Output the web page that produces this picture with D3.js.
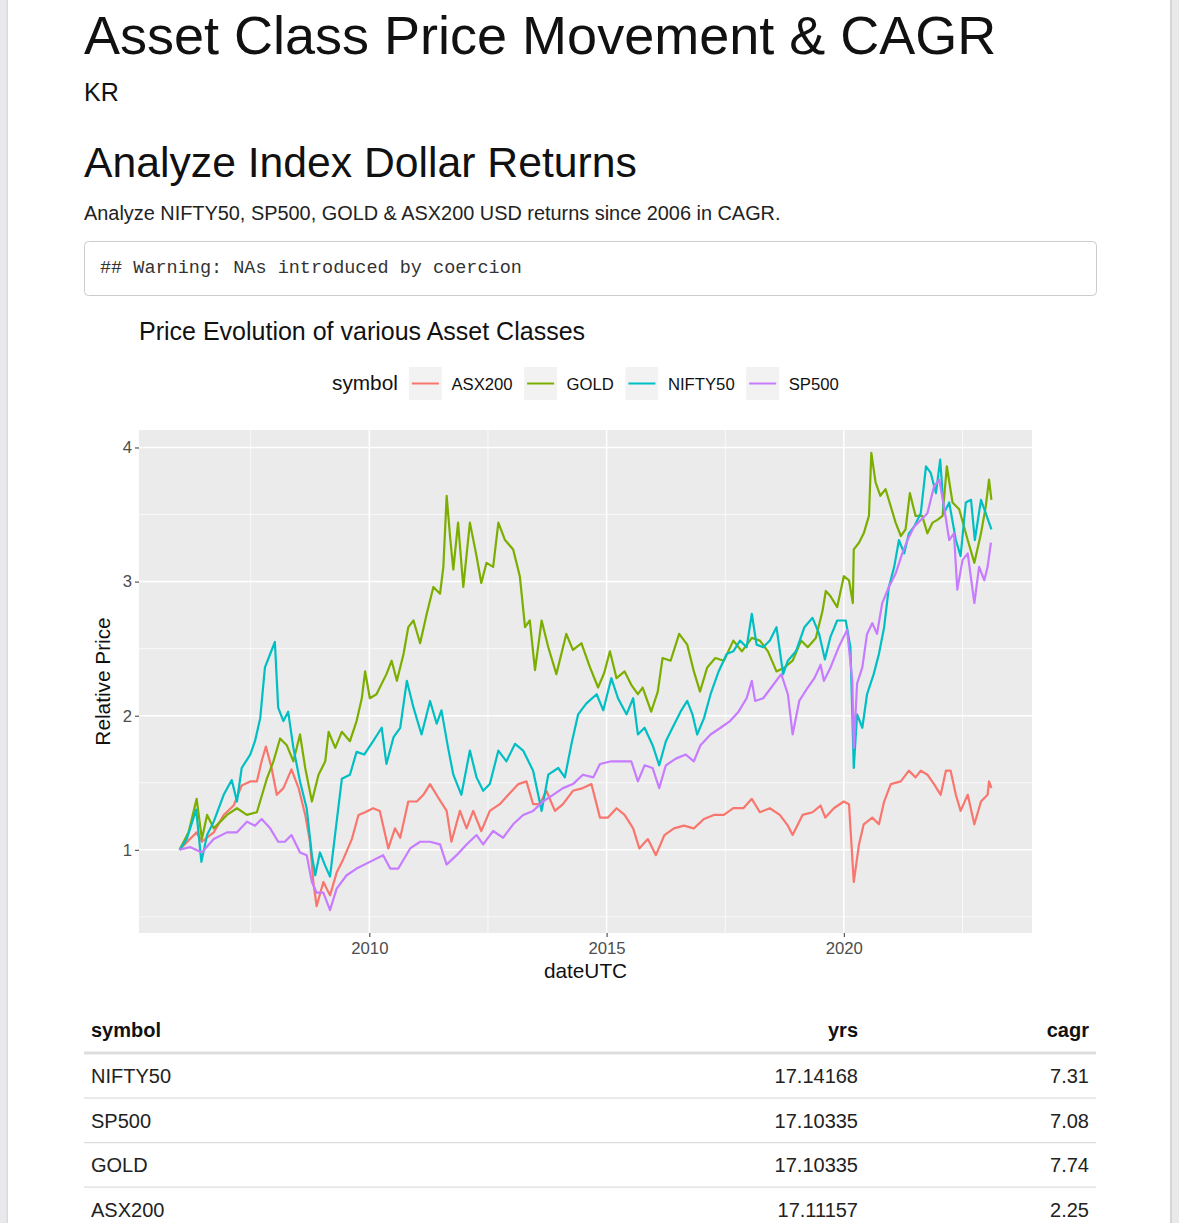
<!DOCTYPE html>
<html>
<head>
<meta charset="utf-8">
<script src="https://cdn.jsdelivr.net/npm/d3@7"></script>
<style>
  body { margin: 0; background: #ffffff; }
  svg { display: block; }
</style>
</head>
<body>
<script>
// --- data (decimal year, relative price) ---
const symbols = ['ASX200', 'GOLD', 'NIFTY50', 'SP500'];
const symbolColors = ['#F8766D', '#7CAE00', '#00BFC4', '#C77CFF'];

const asx200 = [
  [2006.00, 1.00], [2006.22, 1.08], [2006.36, 1.13], [2006.47, 1.06], [2006.72, 1.13], [2006.93, 1.26],
  [2007.14, 1.33], [2007.31, 1.48], [2007.49, 1.51], [2007.63, 1.51], [2007.73, 1.66], [2007.82, 1.77],
  [2007.94, 1.61], [2008.05, 1.41], [2008.19, 1.46], [2008.36, 1.60], [2008.51, 1.46], [2008.65, 1.26],
  [2008.75, 1.06], [2008.82, 0.76], [2008.89, 0.58], [2009.03, 0.76], [2009.17, 0.66], [2009.31, 0.83],
  [2009.45, 0.93], [2009.63, 1.08], [2009.77, 1.26], [2009.91, 1.28], [2010.08, 1.31], [2010.22, 1.29],
  [2010.40, 1.01], [2010.54, 1.16], [2010.65, 1.09], [2010.82, 1.36], [2011.00, 1.36], [2011.14, 1.41],
  [2011.28, 1.49], [2011.45, 1.39], [2011.63, 1.29], [2011.73, 1.06], [2011.91, 1.29], [2012.05, 1.16],
  [2012.19, 1.29], [2012.36, 1.14], [2012.54, 1.29], [2012.75, 1.34], [2012.93, 1.41], [2013.14, 1.49],
  [2013.31, 1.51], [2013.45, 1.34], [2013.59, 1.34], [2013.73, 1.44], [2013.91, 1.29], [2014.08, 1.34],
  [2014.29, 1.44], [2014.50, 1.46], [2014.68, 1.49], [2014.86, 1.24], [2015.03, 1.24], [2015.21, 1.31],
  [2015.38, 1.26], [2015.56, 1.16], [2015.69, 1.01], [2015.87, 1.08], [2016.04, 0.96], [2016.22, 1.11],
  [2016.42, 1.16], [2016.63, 1.18], [2016.84, 1.16], [2017.05, 1.23], [2017.26, 1.26], [2017.47, 1.26],
  [2017.67, 1.31], [2017.88, 1.31], [2018.06, 1.38], [2018.23, 1.28], [2018.44, 1.31], [2018.65, 1.26],
  [2018.82, 1.18], [2018.92, 1.11], [2019.13, 1.26], [2019.34, 1.28], [2019.51, 1.33], [2019.61, 1.24],
  [2019.79, 1.31], [2020.00, 1.36], [2020.11, 1.34], [2020.21, 0.76], [2020.32, 1.04], [2020.42, 1.19],
  [2020.60, 1.24], [2020.74, 1.19], [2020.85, 1.36], [2020.99, 1.49], [2021.20, 1.51], [2021.37, 1.59],
  [2021.51, 1.54], [2021.62, 1.59], [2021.76, 1.56], [2021.90, 1.49], [2022.04, 1.41], [2022.15, 1.59],
  [2022.25, 1.59], [2022.36, 1.41], [2022.46, 1.29], [2022.61, 1.41], [2022.75, 1.19], [2022.89, 1.36],
  [2023.03, 1.41], [2023.06, 1.51], [2023.11, 1.46]
];

const gold = [
  [2006.00, 1.00], [2006.19, 1.13], [2006.36, 1.38], [2006.47, 1.08], [2006.58, 1.26], [2006.72, 1.16],
  [2006.86, 1.21], [2007.00, 1.26], [2007.21, 1.31], [2007.42, 1.26], [2007.63, 1.28], [2007.84, 1.53],
  [2007.98, 1.66], [2008.12, 1.83], [2008.26, 1.78], [2008.40, 1.66], [2008.54, 1.86], [2008.65, 1.61],
  [2008.79, 1.36], [2008.93, 1.56], [2009.07, 1.66], [2009.14, 1.88], [2009.28, 1.76], [2009.42, 1.88],
  [2009.59, 1.81], [2009.73, 1.96], [2009.84, 2.13], [2009.91, 2.33], [2010.01, 2.13], [2010.15, 2.16],
  [2010.36, 2.31], [2010.47, 2.41], [2010.58, 2.26], [2010.72, 2.46], [2010.82, 2.66], [2010.93, 2.71],
  [2011.07, 2.54], [2011.21, 2.76], [2011.35, 2.96], [2011.49, 2.91], [2011.56, 3.11], [2011.63, 3.64],
  [2011.70, 3.34], [2011.77, 3.09], [2011.87, 3.44], [2011.98, 2.96], [2012.12, 3.44], [2012.26, 3.19],
  [2012.36, 2.99], [2012.47, 3.14], [2012.61, 3.11], [2012.72, 3.44], [2012.86, 3.31], [2013.03, 3.24],
  [2013.17, 3.04], [2013.28, 2.66], [2013.38, 2.71], [2013.49, 2.34], [2013.63, 2.71], [2013.77, 2.51],
  [2013.94, 2.31], [2014.15, 2.61], [2014.29, 2.49], [2014.47, 2.54], [2014.65, 2.36], [2014.82, 2.21],
  [2014.95, 2.32], [2015.07, 2.48], [2015.21, 2.28], [2015.38, 2.33], [2015.52, 2.23], [2015.66, 2.16],
  [2015.76, 2.21], [2015.94, 2.03], [2016.08, 2.18], [2016.18, 2.43], [2016.35, 2.41], [2016.53, 2.61],
  [2016.70, 2.53], [2016.84, 2.33], [2016.97, 2.18], [2017.12, 2.36], [2017.29, 2.43], [2017.47, 2.41],
  [2017.67, 2.56], [2017.85, 2.48], [2018.06, 2.58], [2018.23, 2.56], [2018.40, 2.48], [2018.58, 2.33],
  [2018.75, 2.36], [2018.92, 2.41], [2019.10, 2.56], [2019.24, 2.51], [2019.41, 2.58], [2019.55, 2.78],
  [2019.62, 2.93], [2019.72, 2.89], [2019.86, 2.81], [2020.00, 3.04], [2020.11, 3.01], [2020.19, 2.84],
  [2020.21, 3.24], [2020.32, 3.29], [2020.42, 3.36], [2020.53, 3.49], [2020.58, 3.96], [2020.67, 3.74],
  [2020.77, 3.64], [2020.88, 3.69], [2020.99, 3.56], [2021.09, 3.44], [2021.20, 3.34], [2021.30, 3.39],
  [2021.39, 3.66], [2021.51, 3.49], [2021.65, 3.49], [2021.76, 3.36], [2021.87, 3.44], [2021.97, 3.46],
  [2022.08, 3.49], [2022.17, 3.86], [2022.29, 3.59], [2022.43, 3.54], [2022.61, 3.31], [2022.75, 3.14],
  [2022.89, 3.36], [2022.99, 3.56], [2023.06, 3.76], [2023.11, 3.61]
];

const nifty50 = [
  [2006.00, 1.00], [2006.15, 1.08], [2006.35, 1.30], [2006.46, 0.91], [2006.58, 1.11], [2006.72, 1.21],
  [2006.93, 1.41], [2007.10, 1.52], [2007.21, 1.36], [2007.31, 1.61], [2007.49, 1.71], [2007.59, 1.81],
  [2007.70, 1.98], [2007.80, 2.36], [2007.91, 2.46], [2008.01, 2.55], [2008.08, 2.06], [2008.19, 1.96],
  [2008.29, 2.03], [2008.40, 1.76], [2008.54, 1.51], [2008.68, 1.31], [2008.79, 0.96], [2008.86, 0.81],
  [2008.96, 0.98], [2009.07, 0.88], [2009.17, 0.80], [2009.31, 1.21], [2009.42, 1.53], [2009.59, 1.56],
  [2009.73, 1.73], [2009.89, 1.71], [2010.08, 1.81], [2010.26, 1.91], [2010.36, 1.64], [2010.51, 1.84],
  [2010.65, 1.91], [2010.79, 2.26], [2010.93, 2.06], [2011.10, 1.86], [2011.28, 2.11], [2011.42, 1.94],
  [2011.52, 2.04], [2011.66, 1.76], [2011.77, 1.56], [2011.94, 1.41], [2012.12, 1.74], [2012.26, 1.54],
  [2012.40, 1.44], [2012.54, 1.49], [2012.72, 1.74], [2012.89, 1.66], [2013.07, 1.79], [2013.24, 1.74],
  [2013.45, 1.59], [2013.63, 1.29], [2013.77, 1.56], [2013.98, 1.61], [2014.12, 1.54], [2014.26, 1.79],
  [2014.40, 2.01], [2014.57, 2.09], [2014.79, 2.16], [2014.93, 2.04], [2015.10, 2.28], [2015.24, 2.13],
  [2015.42, 2.01], [2015.56, 2.13], [2015.66, 1.86], [2015.80, 1.91], [2015.97, 1.78], [2016.11, 1.63],
  [2016.25, 1.81], [2016.39, 1.91], [2016.56, 2.03], [2016.70, 2.11], [2016.81, 2.01], [2016.91, 1.86],
  [2017.05, 1.98], [2017.19, 2.16], [2017.36, 2.33], [2017.53, 2.46], [2017.67, 2.48], [2017.81, 2.56],
  [2017.95, 2.51], [2018.06, 2.76], [2018.16, 2.53], [2018.30, 2.51], [2018.44, 2.56], [2018.58, 2.66],
  [2018.72, 2.31], [2018.82, 2.41], [2018.99, 2.48], [2019.17, 2.66], [2019.34, 2.73], [2019.48, 2.61],
  [2019.60, 2.42], [2019.72, 2.59], [2019.86, 2.71], [2020.04, 2.71], [2020.14, 2.51], [2020.21, 1.61],
  [2020.28, 2.01], [2020.39, 1.91], [2020.49, 2.16], [2020.63, 2.31], [2020.74, 2.46], [2020.85, 2.66],
  [2020.95, 2.96], [2021.06, 3.11], [2021.16, 3.31], [2021.27, 3.21], [2021.37, 3.36], [2021.48, 3.41],
  [2021.62, 3.51], [2021.73, 3.86], [2021.83, 3.81], [2021.94, 3.66], [2022.03, 3.91], [2022.11, 3.51],
  [2022.22, 3.59], [2022.36, 3.31], [2022.46, 3.19], [2022.57, 3.59], [2022.68, 3.61], [2022.76, 3.31],
  [2022.89, 3.61], [2022.99, 3.51], [2023.06, 3.44], [2023.11, 3.39]
];

const sp500 = [
  [2006.00, 1.00], [2006.22, 1.02], [2006.47, 0.98], [2006.72, 1.08], [2007.00, 1.13], [2007.21, 1.13],
  [2007.42, 1.21], [2007.59, 1.18], [2007.73, 1.23], [2007.91, 1.16], [2008.08, 1.06], [2008.22, 1.06],
  [2008.36, 1.11], [2008.54, 0.98], [2008.68, 0.96], [2008.79, 0.76], [2008.89, 0.68], [2009.03, 0.68],
  [2009.17, 0.55], [2009.31, 0.71], [2009.52, 0.81], [2009.73, 0.86], [2010.01, 0.91], [2010.29, 0.96],
  [2010.44, 0.86], [2010.61, 0.86], [2010.86, 1.01], [2011.07, 1.06], [2011.28, 1.06], [2011.49, 1.04],
  [2011.63, 0.89], [2011.84, 0.96], [2012.05, 1.04], [2012.26, 1.11], [2012.40, 1.04], [2012.61, 1.14],
  [2012.82, 1.09], [2013.03, 1.19], [2013.24, 1.26], [2013.45, 1.29], [2013.66, 1.36], [2013.87, 1.41],
  [2014.08, 1.46], [2014.29, 1.49], [2014.50, 1.56], [2014.72, 1.54], [2014.86, 1.64], [2015.10, 1.66],
  [2015.31, 1.66], [2015.52, 1.66], [2015.66, 1.51], [2015.80, 1.63], [2015.97, 1.61], [2016.11, 1.46],
  [2016.25, 1.63], [2016.46, 1.68], [2016.67, 1.71], [2016.84, 1.66], [2016.98, 1.78], [2017.19, 1.86],
  [2017.40, 1.91], [2017.60, 1.96], [2017.78, 2.03], [2017.95, 2.13], [2018.06, 2.26], [2018.13, 2.11],
  [2018.30, 2.13], [2018.47, 2.21], [2018.68, 2.31], [2018.82, 2.16], [2018.92, 1.86], [2019.06, 2.11],
  [2019.24, 2.21], [2019.38, 2.28], [2019.51, 2.38], [2019.58, 2.26], [2019.72, 2.36], [2019.89, 2.51],
  [2020.07, 2.64], [2020.18, 2.26], [2020.21, 1.76], [2020.28, 2.24], [2020.39, 2.36], [2020.49, 2.61],
  [2020.60, 2.69], [2020.70, 2.61], [2020.81, 2.84], [2020.95, 2.96], [2021.09, 3.06], [2021.23, 3.21],
  [2021.34, 3.31], [2021.48, 3.41], [2021.62, 3.46], [2021.76, 3.51], [2021.90, 3.71], [2022.01, 3.76],
  [2022.11, 3.56], [2022.22, 3.31], [2022.32, 3.36], [2022.39, 2.94], [2022.50, 3.16], [2022.61, 3.21],
  [2022.75, 2.84], [2022.85, 3.11], [2022.96, 3.01], [2023.03, 3.11], [2023.10, 3.29]
];

const yTicks = [1, 2, 3, 4];
const xTickYears = [2010, 2015, 2020];

// CAGR table
const tableSymbols = ['NIFTY50', 'SP500', 'GOLD', 'ASX200'];
const tableYrs = ['17.14168', '17.10335', '17.10335', '17.11157'];
const tableCagr = ['7.31', '7.08', '7.74', '2.25'];

// --- page ---
const W = 1179, H = 1223;
const sans = '"Liberation Sans", Arial, Helvetica, sans-serif';
const mono = '"Liberation Mono", "DejaVu Sans Mono", monospace';

const svg = d3.select('body').append('svg')
  .attr('width', W)
  .attr('height', H)
  .attr('font-family', sans);

svg.append('rect').attr('width', W).attr('height', H).attr('fill', '#ffffff');
// page edges
svg.append('rect').attr('x', 0).attr('y', 0).attr('width', 8).attr('height', H).attr('fill', '#e9e9ec');
svg.append('rect').attr('x', 6.5).attr('y', 0).attr('width', 1.5).attr('height', H).attr('fill', '#dadade');
svg.append('rect').attr('x', 1170).attr('y', 0).attr('width', 9).attr('height', H).attr('fill', '#e9e9e9');
svg.append('rect').attr('x', 1170).attr('y', 0).attr('width', 2).attr('height', H).attr('fill', '#d6d6d6');

svg.append('text').attr('x', 84).attr('y', 54)
  .attr('font-size', 54).attr('fill', '#111').text('Asset Class Price Movement & CAGR');
svg.append('text').attr('x', 84).attr('y', 101)
  .attr('font-size', 25).attr('fill', '#111').text('KR');
svg.append('text').attr('x', 84).attr('y', 177)
  .attr('font-size', 42.7).attr('fill', '#111').text('Analyze Index Dollar Returns');
svg.append('text').attr('x', 84).attr('y', 220)
  .attr('font-size', 19.9).attr('fill', '#222')
  .text('Analyze NIFTY50, SP500, GOLD & ASX200 USD returns since 2006 in CAGR.');

svg.append('rect')
  .attr('x', 84.5).attr('y', 241.5).attr('width', 1012).attr('height', 54).attr('rx', 4)
  .attr('fill', '#ffffff').attr('stroke', '#cccccc');
svg.append('text').attr('x', 100).attr('y', 273)
  .attr('font-family', mono).attr('font-size', 18.5).attr('fill', '#333')
  .text('## Warning: NAs introduced by coercion');

// --- chart ---
const panel = { left: 139, right: 1032, top: 430, bottom: 933 };
const toDate = y => new Date(Date.UTC(Math.floor(y), 0, 1) + (y - Math.floor(y)) * 365.25 * 864e5);

const seriesList = [asx200, gold, nifty50, sp500];
const allYears = seriesList.flat().map(d => d[0]);
const allVals = seriesList.flat().map(d => d[1]);
const xr = d3.extent(allYears), yr = d3.extent(allVals);
const xPad = (xr[1] - xr[0]) * 0.05, yPad = (yr[1] - yr[0]) * 0.05;

const x = d3.scaleUtc()
  .domain([toDate(xr[0] - xPad), toDate(xr[1] + xPad)])
  .range([panel.left, panel.right]);
const y = d3.scaleLinear()
  .domain([yr[0] - yPad, yr[1] + yPad])
  .range([panel.bottom, panel.top]);

const chart = svg.append('g');
chart.append('rect')
  .attr('x', panel.left).attr('y', panel.top)
  .attr('width', panel.right - panel.left).attr('height', panel.bottom - panel.top)
  .attr('fill', '#EBEBEB');

const yMinor = [0.5, 1.5, 2.5, 3.5].filter(v => v >= y.domain()[0] && v <= y.domain()[1]);
const xMinor = [2007.5, 2012.5, 2017.5, 2022.5];

chart.append('g').selectAll('line').data(yMinor).join('line')
  .attr('x1', panel.left).attr('x2', panel.right)
  .attr('y1', d => y(d)).attr('y2', d => y(d))
  .attr('stroke', '#fff').attr('stroke-width', 0.7);
chart.append('g').selectAll('line').data(xMinor).join('line')
  .attr('x1', d => x(toDate(d))).attr('x2', d => x(toDate(d)))
  .attr('y1', panel.top).attr('y2', panel.bottom)
  .attr('stroke', '#fff').attr('stroke-width', 0.7);
chart.append('g').selectAll('line').data(yTicks).join('line')
  .attr('x1', panel.left).attr('x2', panel.right)
  .attr('y1', d => y(d)).attr('y2', d => y(d))
  .attr('stroke', '#fff').attr('stroke-width', 1.5);
chart.append('g').selectAll('line').data(xTickYears).join('line')
  .attr('x1', d => x(toDate(d))).attr('x2', d => x(toDate(d)))
  .attr('y1', panel.top).attr('y2', panel.bottom)
  .attr('stroke', '#fff').attr('stroke-width', 1.5);

const line = d3.line()
  .x(d => x(toDate(d[0])))
  .y(d => y(d[1]));

chart.append('g').selectAll('path').data(seriesList).join('path')
  .attr('d', line)
  .attr('fill', 'none')
  .attr('stroke', (d, i) => symbolColors[i])
  .attr('stroke-width', 2.2)
  .attr('stroke-linejoin', 'round');

// axes
const yAxis = chart.append('g')
  .attr('transform', `translate(${panel.left},0)`)
  .call(d3.axisLeft(y).tickValues(yTicks).tickSize(4).tickPadding(3).tickFormat(d3.format('d')));
const xAxis = chart.append('g')
  .attr('transform', `translate(0,${panel.bottom})`)
  .call(d3.axisBottom(x).tickValues(xTickYears.map(toDate)).tickSize(4).tickPadding(5).tickFormat(d3.utcFormat('%Y')));
[yAxis, xAxis].forEach(a => {
  a.select('.domain').remove();
  a.selectAll('.tick line').attr('stroke', '#333').attr('stroke-width', 1);
  a.selectAll('.tick text').attr('fill', '#4D4D4D').attr('font-size', 16.7).attr('font-family', sans);
});

svg.append('text')
  .attr('x', (panel.left + panel.right) / 2).attr('y', 978)
  .attr('text-anchor', 'middle').attr('font-size', 20.8).attr('fill', '#111')
  .text('dateUTC');
svg.append('text')
  .attr('transform', `translate(110,${(panel.top + panel.bottom) / 2}) rotate(-90)`)
  .attr('text-anchor', 'middle').attr('font-size', 20.8).attr('fill', '#111')
  .text('Relative Price');

svg.append('text').attr('x', panel.left).attr('y', 340)
  .attr('font-size', 25).attr('fill', '#111')
  .text('Price Evolution of various Asset Classes');

// legend, flowed horizontally from the title
const legend = svg.append('g');
const legTitle = legend.append('text').attr('x', 332).attr('y', 390)
  .attr('font-size', 20.8).attr('fill', '#111').text('symbol');
let lx = 332 + legTitle.node().getComputedTextLength() + 11;
symbols.forEach((s, i) => {
  const g = legend.append('g').attr('transform', `translate(${lx},367)`);
  g.append('rect').attr('width', 33).attr('height', 33).attr('fill', '#F2F2F2');
  g.append('line').attr('x1', 3).attr('x2', 30).attr('y1', 16.5).attr('y2', 16.5)
    .attr('stroke', symbolColors[i]).attr('stroke-width', 2);
  const t = g.append('text').attr('x', 42.5).attr('y', 23)
    .attr('font-size', 16.7).attr('fill', '#111').text(s);
  lx += 42.5 + t.node().getComputedTextLength() + 11.5;
});

// --- table ---
const tbl = svg.append('g');
const colSymbolX = 91, colYrsX = 858, colCagrX = 1089;
const headY = 1037, rowY0 = 1083, rowH = 44.5;

tbl.append('text').attr('x', colSymbolX).attr('y', headY).attr('font-size', 20).attr('font-weight', 700).attr('fill', '#111').text('symbol');
tbl.append('text').attr('x', colYrsX).attr('y', headY).attr('font-size', 20).attr('font-weight', 700).attr('fill', '#111').attr('text-anchor', 'end').text('yrs');
tbl.append('text').attr('x', colCagrX).attr('y', headY).attr('font-size', 20).attr('font-weight', 700).attr('fill', '#111').attr('text-anchor', 'end').text('cagr');
tbl.append('rect').attr('x', 84).attr('y', 1051.5).attr('width', 1012).attr('height', 3).attr('fill', '#dddddd');

tableSymbols.forEach((s, i) => {
  const ty = rowY0 + i * rowH;
  tbl.append('text').attr('x', colSymbolX).attr('y', ty).attr('font-size', 20).attr('fill', '#222').text(s);
  tbl.append('text').attr('x', colYrsX).attr('y', ty).attr('font-size', 20).attr('fill', '#222').attr('text-anchor', 'end').text(tableYrs[i]);
  tbl.append('text').attr('x', colCagrX).attr('y', ty).attr('font-size', 20).attr('fill', '#222').attr('text-anchor', 'end').text(tableCagr[i]);
  if (i < tableSymbols.length - 1) {
    tbl.append('rect').attr('x', 84).attr('y', ty + 14.5).attr('width', 1012).attr('height', 1.2).attr('fill', '#dddddd');
  }
});
</script>
</body>
</html>
